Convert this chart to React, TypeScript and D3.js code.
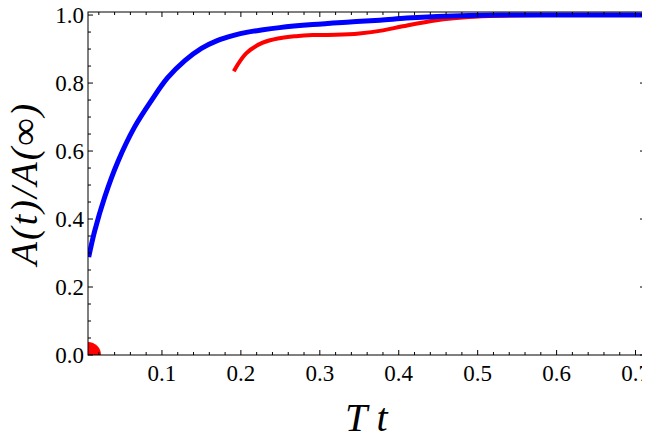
import React from "react";
import * as d3 from "d3";

const WIDTH = 650;
const HEIGHT = 443;
const margin = { top: 12, right: 5, bottom: 88, left: 88 };

// blue curve (t, A(t)/A(inf))
const blueT = [0.0072, 0.0148, 0.0275, 0.044, 0.0654, 0.087, 0.107, 0.129, 0.15, 0.17, 0.192, 0.207, 0.226, 0.249, 0.291, 0.334, 0.376, 0.41, 0.449, 0.489, 0.53, 0.6, 0.711];
const blueA = [0.288, 0.365, 0.465, 0.568, 0.671, 0.75, 0.815, 0.866, 0.902, 0.925, 0.941, 0.949, 0.956, 0.963, 0.972, 0.979, 0.985, 0.991, 0.996, 0.999, 1.0, 1.0, 1.0];

// red curve
const redT = [0.191, 0.207, 0.227, 0.249, 0.27, 0.291, 0.32, 0.35, 0.38, 0.405, 0.448, 0.489, 0.531, 0.578, 0.64, 0.711];
const redA = [0.835, 0.888, 0.918, 0.932, 0.938, 0.941, 0.942, 0.946, 0.955, 0.967, 0.985, 0.994, 0.998, 1.0, 1.0, 1.0];

// red point at the origin
const dotT = [0.0063];
const dotA = [0];

const xMajor = [0.1, 0.2, 0.3, 0.4, 0.5, 0.6, 0.7];
const yMajor = [0.0, 0.2, 0.4, 0.6, 0.8, 1.0];

const X_DOMAIN: [number, number] = [0.0063, 0.712];
const Y_DOMAIN: [number, number] = [0, 1.009];

const FONT = '"Liberation Serif"';

const x0 = margin.left;
const x1 = WIDTH - margin.right;
const y0 = HEIGHT - margin.bottom;
const y1 = margin.top;

const x = d3.scaleLinear().domain(X_DOMAIN).range([x0, x1]);
const y = d3.scaleLinear().domain(Y_DOMAIN).range([y0, y1]);

const line = d3
  .line<[number, number]>()
  .x((d) => x(d[0]))
  .y((d) => y(d[1]))
  .curve(d3.curveCatmullRom.alpha(0.5));

const isMajor = (v: number, step: number) => Math.abs(v / step - Math.round(v / step)) < 1e-6;
const xMinor = d3.range(0, 0.72, 0.02).filter((v) => v >= X_DOMAIN[0] && v <= X_DOMAIN[1]);
const yMinor = d3.range(0, 1.01, 0.05);
const fmt = d3.format(".1f");

export default function App() {
  const bluePath = line(blueT.map((t, i) => [t, blueA[i]] as [number, number])) ?? "";
  const redPath = line(redT.map((t, i) => [t, redA[i]] as [number, number])) ?? "";

  return (
    <div style={{ margin: "-8px", fontFamily: FONT }}>
      <svg width={WIDTH} height={HEIGHT}>
        <defs>
          <clipPath id="plot-clip">
            <rect x={x0} y={y1} width={x1 - x0} height={y0 - y1} />
          </clipPath>
        </defs>

        <g clipPath="url(#plot-clip)">
          <path d={redPath} fill="none" stroke="#ff0000" strokeWidth={4} />
          <path d={bluePath} fill="none" stroke="#0000ff" strokeWidth={5} />
          {dotT.map((t, i) => (
            <circle key={i} cx={x(t)} cy={y(dotA[i])} r={13} fill="#ff0000" />
          ))}
        </g>

        <rect x={x0} y={y1} width={x1 - x0} height={y0 - y1} fill="none" stroke="black" strokeWidth={1} />

        {/* ticks, inward on all four sides */}
        <g stroke="black" strokeWidth={1}>
          {xMinor.map((v) => {
            const len = isMajor(v, 0.1) ? 5 : 3;
            return (
              <g key={"x" + v}>
                <line x1={x(v)} x2={x(v)} y1={y0} y2={y0 - len} />
                <line x1={x(v)} x2={x(v)} y1={y1} y2={y1 + len} />
              </g>
            );
          })}
          {yMinor.map((v) => {
            const len = isMajor(v, 0.2) ? 5 : 3;
            return (
              <g key={"y" + v}>
                <line x1={x0} x2={x0 + len} y1={y(v)} y2={y(v)} />
                <line x1={x1} x2={x1 - len} y1={y(v)} y2={y(v)} />
              </g>
            );
          })}
        </g>

        {xMajor.map((v) => (
          <text key={"xl" + v} x={x(v)} y={y0 + 26} textAnchor="middle" fontSize={23} fontFamily="Liberation Serif">
            {fmt(v)}
          </text>
        ))}
        {yMajor.map((v) => (
          <text key={"yl" + v} x={x0 - 4} y={y(v) + 8} textAnchor="end" fontSize={23} fontFamily="Liberation Serif">
            {fmt(v)}
          </text>
        ))}

        <text x={345} y={431} fontStyle="italic" fontSize={40} fontFamily="Liberation Serif">
          T t
        </text>
        <text
          transform={`translate(37, ${(y0 + y1) / 2}) rotate(-90)`}
          textAnchor="middle"
          fontStyle="italic"
          fontSize={38}
          letterSpacing={2}
          fontFamily="Liberation Serif"
        >
          A(t)/A(∞)
        </text>
      </svg>
    </div>
  );
}
